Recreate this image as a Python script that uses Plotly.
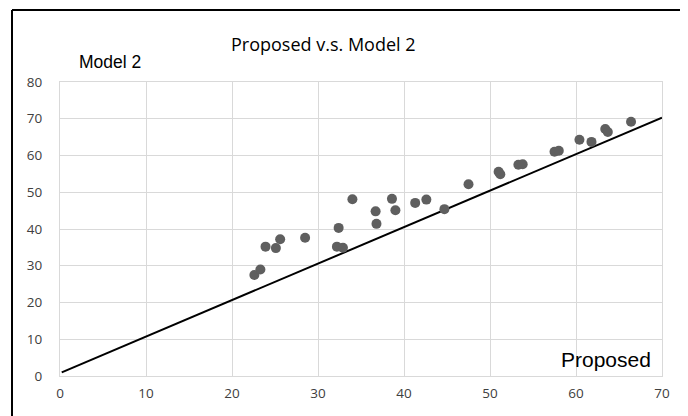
import plotly.graph_objects as go

proposed = [22.6, 23.3, 23.9, 25.1, 25.6, 28.5, 32.2, 32.4, 32.9, 34.0,
            36.7, 36.8, 38.6, 39.0, 41.3, 42.6, 44.7, 47.5, 51.0, 51.2,
            53.3, 53.8, 57.5, 58.0, 60.4, 61.8, 63.4, 63.7, 66.4]
model2 = [27.5, 29.0, 35.2, 34.8, 37.2, 37.6, 35.2, 40.3, 34.9, 48.1,
          44.8, 41.4, 48.2, 45.1, 47.1, 48.0, 45.4, 52.2, 55.6, 54.9,
          57.5, 57.6, 61.0, 61.3, 64.3, 63.7, 67.2, 66.4, 69.2]
line_x = [0.2, 70]
line_y = [1.0, 70.3]
x_ticks = [0, 10, 20, 30, 40, 50, 60, 70]
y_ticks = [0, 10, 20, 30, 40, 50, 60, 70, 80]

fig = go.Figure()
fig.add_trace(go.Scatter(x=line_x, y=line_y, mode="lines",
                         line=dict(color="black", width=2), hoverinfo="skip"))
fig.add_trace(go.Scatter(x=proposed, y=model2, mode="markers",
                         marker=dict(color="#5f5f5f", size=10)))

tickfont = dict(family="Open Sans", size=13.5, color="#404040")
fig.update_xaxes(range=[0, 70], tickvals=x_ticks, showgrid=True, gridcolor="#d9d9d9",
                 gridwidth=1, zeroline=False, showline=True, linecolor="#d9d9d9",
                 mirror=True, tickfont=tickfont, ticks="", ticklabelstandoff=5,
                 automargin=False)
fig.update_yaxes(range=[0, 80], tickvals=y_ticks, showgrid=True, gridcolor="#d9d9d9",
                 gridwidth=1, zeroline=False, showline=True, linecolor="#d9d9d9",
                 mirror=True, tickfont=tickfont, ticks="", ticklabelstandoff=14,
                 automargin=False)

narrow = "Liberation Sans Narrow, Arial Narrow, Liberation Sans"
fig.update_layout(
    width=680, height=408,
    margin=dict(l=52, r=26, t=74, b=40),
    paper_bgcolor="white", plot_bgcolor="white",
    showlegend=False,
    annotations=[
        dict(text="Proposed v.s. Model 2", xref="paper", yref="paper",
             x=0.4385, y=1.129, showarrow=False, xanchor="center", yanchor="middle",
             font=dict(family="Open Sans", size=18, color="black")),
        dict(text="Model 2", xref="paper", yref="paper",
             x=(77 - 60) / 602, y=(376 - 62) / 294, showarrow=False,
             xanchor="left", yanchor="middle",
             font=dict(family=narrow, size=17.5, color="black")),
        dict(text="Proposed", xref="paper", yref="paper",
             x=(653 - 60) / 602, y=(376 - 359) / 294, showarrow=False,
             xanchor="right", yanchor="middle",
             font=dict(family=narrow, size=21, color="black")),
    ],
    shapes=[
        dict(type="line", xref="paper", yref="paper", x0=(12 - 60) / 602, x1=1.1,
             y0=(376 - 10) / 294, y1=(376 - 10) / 294, line=dict(color="black", width=2)),
        dict(type="line", xref="paper", yref="paper", x0=(12 - 60) / 602, x1=(12 - 60) / 602,
             y0=(376 - 10) / 294, y1=-0.2, line=dict(color="black", width=2)),
    ],
)

fig.write_html("out.html")
